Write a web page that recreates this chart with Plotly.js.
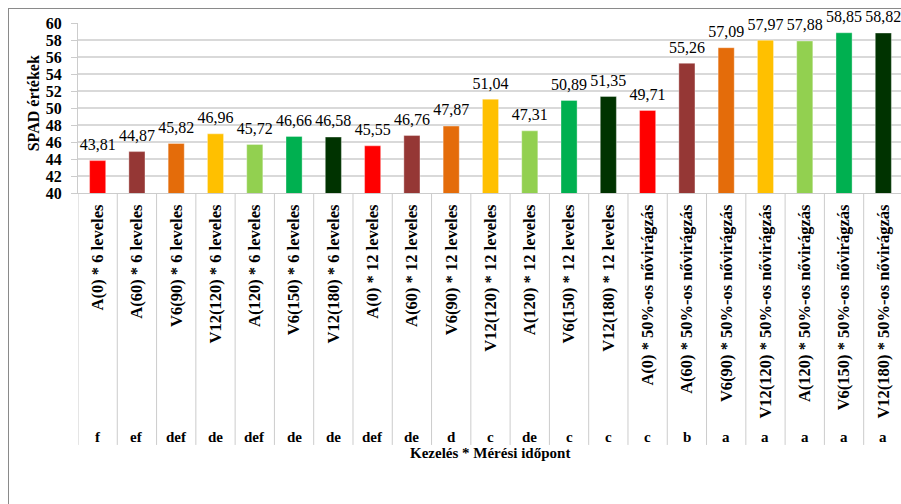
<!DOCTYPE html>
<html><head><meta charset="utf-8">
<script src="https://cdn.plot.ly/plotly-3.0.1.min.js"></script>
<style>
html,body{margin:0;padding:0;background:#fff;}
#wrap{position:relative;width:901px;height:504px;overflow:hidden;}
#chart{width:901px;height:504px;}
#frame{position:absolute;left:8px;top:8px;width:1000px;height:1000px;border-left:1.5px solid #8a8a8a;border-top:1.5px solid #8a8a8a;pointer-events:none;}
</style></head>
<body><div id="wrap"><div id="chart"></div><div id="frame"></div></div>
<script>
const categories = [
 "A(0) * 6 leveles","A(60) * 6 leveles","V6(90) * 6 leveles","V12(120) * 6 leveles","A(120) * 6 leveles","V6(150) * 6 leveles","V12(180) * 6 leveles",
 "A(0) * 12 leveles","A(60) * 12 leveles","V6(90) * 12 leveles","V12(120) * 12 leveles","A(120) * 12 leveles","V6(150) * 12 leveles","V12(180) * 12 leveles",
 "A(0) * 50%-os nővirágzás","A(60) * 50%-os nővirágzás","V6(90) * 50%-os nővirágzás","V12(120) * 50%-os nővirágzás","A(120) * 50%-os nővirágzás","V6(150) * 50%-os nővirágzás","V12(180) * 50%-os nővirágzás"
];
const values = [43.81,44.87,45.82,46.96,45.72,46.66,46.58,45.55,46.76,47.87,51.04,47.31,50.89,51.35,49.71,55.26,57.09,57.97,57.88,58.85,58.82];
const letters = ["f","ef","def","de","def","de","de","def","de","d","c","de","c","c","c","b","a","a","a","a","a"];
const treatmentColors = ["#FF0000","#953735","#E46C0A","#FFC000","#92D050","#00B050","#003300"];
const yTicks = [40,42,44,46,48,50,52,54,56,58,60];

const serif = "Liberation Serif";
const idx = categories.map((c,i)=>i);
const barColors = idx.map(i=>treatmentColors[i%treatmentColors.length]);

const bars = {
  type:'bar', x:idx, y:values,
  marker:{color:barColors, line:{color:'rgba(255,255,255,0.35)', width:1}},
  width:0.41, hoverinfo:'skip'
};
const labels = {
  type:'scatter', mode:'markers+text', x:idx, y:values,
  marker:{size:9, opacity:0, color:'#fff'},
  texttemplate:'%{y:.2f}', textposition:'top center',
  textfont:{family:serif, size:16, color:'#000'},
  cliponaxis:false, hoverinfo:'skip'
};

const shapes = [];
for(let k=0;k<=categories.length;k++){
  shapes.push({type:'line', xref:'x', yref:'paper', x0:k-0.5, x1:k-0.5, y0:0, y1:-1.482, line:{color:'#cccccc', width:1}});
}
const annotations = idx.map(i=>({
  x:i, y:-1.435, xref:'x', yref:'paper', text:'<b>'+letters[i]+'</b>', showarrow:false,
  font:{family:serif, size:15, color:'#000'}, yanchor:'middle'
}));
annotations.push({x:0.5, y:-1.53, xref:'paper', yref:'paper', text:'<b>Kezelés * Mérési időpont</b>', showarrow:false,
  font:{family:serif, size:15, color:'#000'}, yanchor:'middle'});
annotations.push({x:-0.053, y:0.53, xref:'paper', yref:'paper', text:'<b>SPAD értékek</b>', showarrow:false, textangle:-90,
  font:{family:serif, size:16, color:'#000'}, xanchor:'center', yanchor:'middle'});

const layout = {
  width:901, height:504,
  margin:{l:78, r:0, t:23, b:311},
  paper_bgcolor:'#fff', plot_bgcolor:'#fff',
  separators:',.',
  showlegend:false,
  font:{family:serif},
  xaxis:{
    range:[-0.5, 20.45], tickmode:'array', tickvals:idx, ticktext:categories.map(c=>'<b>'+c+'</b>'),
    tickangle:-90, ticks:'', showgrid:false, zeroline:false,
    showline:true, linecolor:'#cccccc', linewidth:1,
    tickfont:{family:serif, size:16.5, color:'#000'},
    ticklabelstandoff:4, fixedrange:true
  },
  yaxis:{
    range:[40,60], tickmode:'array', tickvals:yTicks, ticktext:yTicks.map(v=>'<b>'+v+'</b>'),
    showgrid:true, gridcolor:'#d9d9d9', gridwidth:1.5, zeroline:false,
    showline:true, linecolor:'#cccccc', linewidth:1,
    ticks:'outside', ticklen:6, tickcolor:'#cccccc',
    tickfont:{family:serif, size:16, color:'#000'},
    ticklabelstandoff:6, fixedrange:true
  },
  shapes:shapes, annotations:annotations
};
Plotly.newPlot('chart',[bars,labels],layout,{displayModeBar:false, staticPlot:true});
</script></body></html>
